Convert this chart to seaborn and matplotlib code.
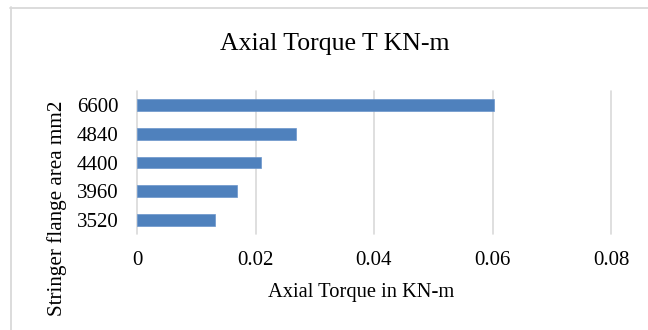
import matplotlib
matplotlib.use("Agg")
import matplotlib.pyplot as plt
from matplotlib.lines import Line2D
import seaborn as sns
import pandas as pd

# Stringer flange area (mm2), listed top to bottom
flange_area = ["6600", "4840", "4400", "3960", "3520"]
# Axial torque (KN-m) for each flange area
axial_torque = [0.0603, 0.0268, 0.0210, 0.0168, 0.0131]
# x-axis ticks and their labels
x_ticks = [0, 0.02, 0.04, 0.06, 0.08]
x_tick_labels = ["0", "0.02", "0.04", "0.06", "0.08"]

sns.set_theme(style="white")
plt.rcParams["font.family"] = ["Liberation Serif", "DejaVu Serif"]

df = pd.DataFrame({"area": flange_area, "torque": axial_torque})

W, H = 648, 330
fig = plt.figure(figsize=(W / 100, H / 100), dpi=100)
ax = fig.add_axes([137 / W, 1 - 234 / H, 474 / W, 143 / H])

sns.barplot(data=df, x="torque", y="area", order=flange_area, orient="h",
            color="#4f81bd", saturation=1, width=0.41, ax=ax,
            edgecolor="#6a95cb", linewidth=0.5, zorder=3)

ax.set_xlim(0, 0.08)
ax.set_xticks(x_ticks)
ax.set_xticklabels(x_tick_labels)
ax.set_xlabel("")
ax.set_ylabel("")
for s in ax.spines.values():
    s.set_visible(False)
ax.grid(axis="x", color="#d9d9d9", linewidth=1.2, zorder=0)
ax.grid(axis="y", visible=False)
for gl in ax.get_xgridlines():
    gl.set_clip_on(False)
ax.tick_params(axis="x", length=0, pad=12, labelsize=15, colors="#000000")
ax.tick_params(axis="y", length=0, pad=13.5, labelsize=15, colors="#000000")

fig.text(335 / W, 1 - 44 / H, "Axial Torque T KN-m", ha="center", va="center",
         fontsize=18.5, color="#000000")
fig.text(361 / W, 1 - 292 / H, "Axial Torque in KN-m", ha="center", va="center",
         fontsize=14.8, color="#000000")
fig.text(57 / W, 1 - 208 / H, "Stringer flange area mm2", ha="center", va="center",
         rotation=90, fontsize=15.2, color="#000000")

# chart frame
fig.add_artist(Line2D([10.5 / W, 10.5 / W], [1 - 7 / H, 0], transform=fig.transFigure,
                      color="#d9d9d9", linewidth=1.3))
fig.add_artist(Line2D([10 / W, 1], [1 - 7.5 / H, 1 - 7.5 / H], transform=fig.transFigure,
                      color="#d9d9d9", linewidth=1.3))

fig.savefig("out.png", dpi=100, facecolor="white")
